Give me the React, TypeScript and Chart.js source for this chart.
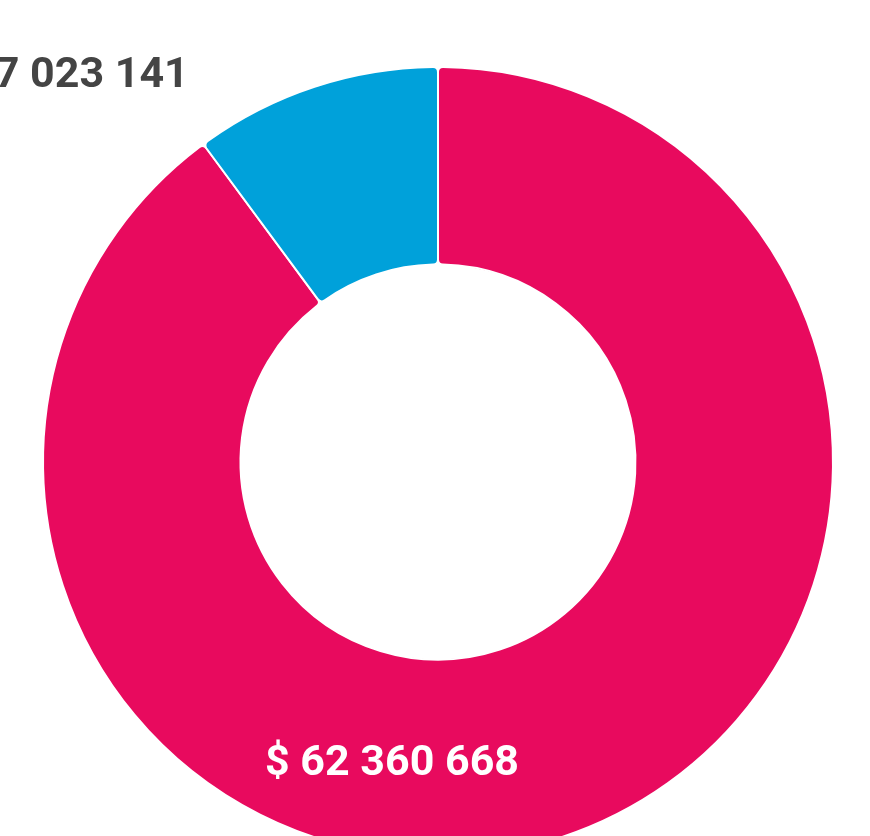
import React, { useEffect, useRef } from 'react';
import { Chart, registerables } from 'chart.js';

Chart.register(...registerables);

// ---- data ----
const categories: string[] = ['Segment A', 'Segment B'];
const values: number[] = [62360668, 7023141];
const sliceColors: string[] = ['#E80A5E', '#00A1DA'];

const formatMoney = (v: number) =>
  '$ ' + String(v).replace(/\B(?=(\d{3})+(?!\d))/g, ' ');

const sliceLabelPlugin = {
  id: 'sliceLabels',
  afterDatasetsDraw(chart: any, _args: any, opts: any) {
    const meta = chart.getDatasetMeta(0);
    const ctx = chart.ctx;
    const ds = chart.data.datasets[0];
    ctx.save();
    ctx.font = opts.font;
    ctx.textAlign = 'center';
    ctx.textBaseline = 'middle';
    meta.data.forEach((arc: any, i: number) => {
      const p = opts.placement[i];
      const a = (p.angle * Math.PI) / 180;
      const r = arc.outerRadius * p.dist;
      const x = arc.x + Math.sin(a) * r;
      const y = arc.y - Math.cos(a) * r;
      ctx.fillStyle = opts.colors[i];
      ctx.fillText(formatMoney(ds.data[i] as number), x, y);
    });
    ctx.restore();
  },
};

export default function App() {
  const canvasRef = useRef<HTMLCanvasElement | null>(null);

  useEffect(() => {
    if (!canvasRef.current) return;
    const chart = new Chart(canvasRef.current, {
      type: 'doughnut',
      data: {
        labels: categories,
        datasets: [
          {
            data: values,
            backgroundColor: sliceColors,
            borderColor: '#ffffff',
            borderWidth: 2,
            borderRadius: 5,
            radius: 395,
            hoverOffset: 0,
          },
        ],
      },
      options: {
        responsive: false,
        animation: false,
        cutout: '50%',
        layout: { padding: 0 },
        plugins: {
          legend: { display: false },
          tooltip: { enabled: false },
          // @ts-ignore
          sliceLabels: {
            font: 'bold 43px Roboto',
            colors: ['#FFFFFF', '#444444'],
            placement: [
              { angle: 188.65, dist: 0.775 },
              { angle: -43.32, dist: 1.343 },
            ],
          },
        },
      },
      plugins: [sliceLabelPlugin],
    });
    return () => chart.destroy();
  }, []);

  return (
    <div
      style={{
        position: 'fixed',
        left: 0,
        top: 0,
        width: 870,
        height: 836,
        overflow: 'hidden',
        background: '#ffffff',
      }}
    >
      <canvas
        ref={canvasRef}
        width={876}
        height={924}
        style={{ position: 'absolute', left: 0, top: 0, width: 876, height: 924 }}
      />
    </div>
  );
}
